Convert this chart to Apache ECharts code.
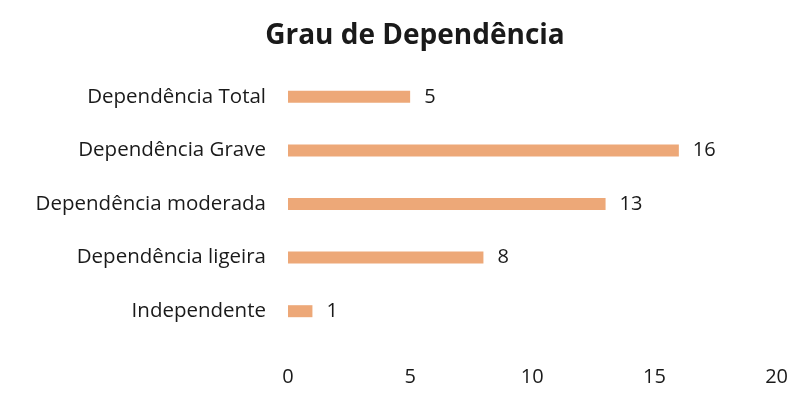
<!DOCTYPE html>
<html>
<head>
<meta charset="utf-8">
<script src="https://cdn.jsdelivr.net/npm/echarts@6/dist/echarts.min.js"></script>
<style>
html, body { margin: 0; padding: 0; background: #fff; }
#chart { width: 791px; height: 404px; }
</style>
</head>
<body>
<div id="chart"></div>
<script>
var categories = ['Independente', 'Dependência ligeira', 'Dependência moderada', 'Dependência Grave', 'Dependência Total'];
var values = [1, 8, 13, 16, 5];
var xTicks = [0, 5, 10, 15, 20];

var chart = echarts.init(document.getElementById('chart'));

var option = {
    backgroundColor: '#ffffff',
    title: {
        text: 'Grau de Dependência',
        left: 410,
        textAlign: 'center',
        top: 17,
        textStyle: {
            fontFamily: 'Open Sans',
            fontSize: 28,
            fontWeight: 'bold',
            color: '#1a1a1a'
        }
    },
    grid: {
        left: 288,
        right: 12,
        top: 70,
        bottom: 66
    },
    xAxis: {
        type: 'value',
        min: xTicks[0],
        max: xTicks[xTicks.length - 1],
        interval: 5,
        axisLine: { show: false },
        axisTick: { show: false },
        splitLine: { show: false },
        axisLabel: {
            margin: 29,
            fontFamily: 'Open Sans',
            fontSize: 20,
            color: '#1a1a1a'
        }
    },
    yAxis: {
        type: 'category',
        data: categories,
        axisLine: { show: false },
        axisTick: { show: false },
        axisLabel: {
            margin: 22,
            fontFamily: 'Open Sans',
            fontSize: 20.5,
            color: '#1a1a1a'
        }
    },
    series: [{
        type: 'bar',
        data: values,
        barWidth: 12,
        itemStyle: { color: '#eda878' },
        label: {
            show: true,
            position: 'right',
            distance: 14,
            fontFamily: 'Open Sans',
            fontSize: 20,
            color: '#1a1a1a'
        }
    }]
};
chart.setOption(option);
</script>
</body>
</html>
